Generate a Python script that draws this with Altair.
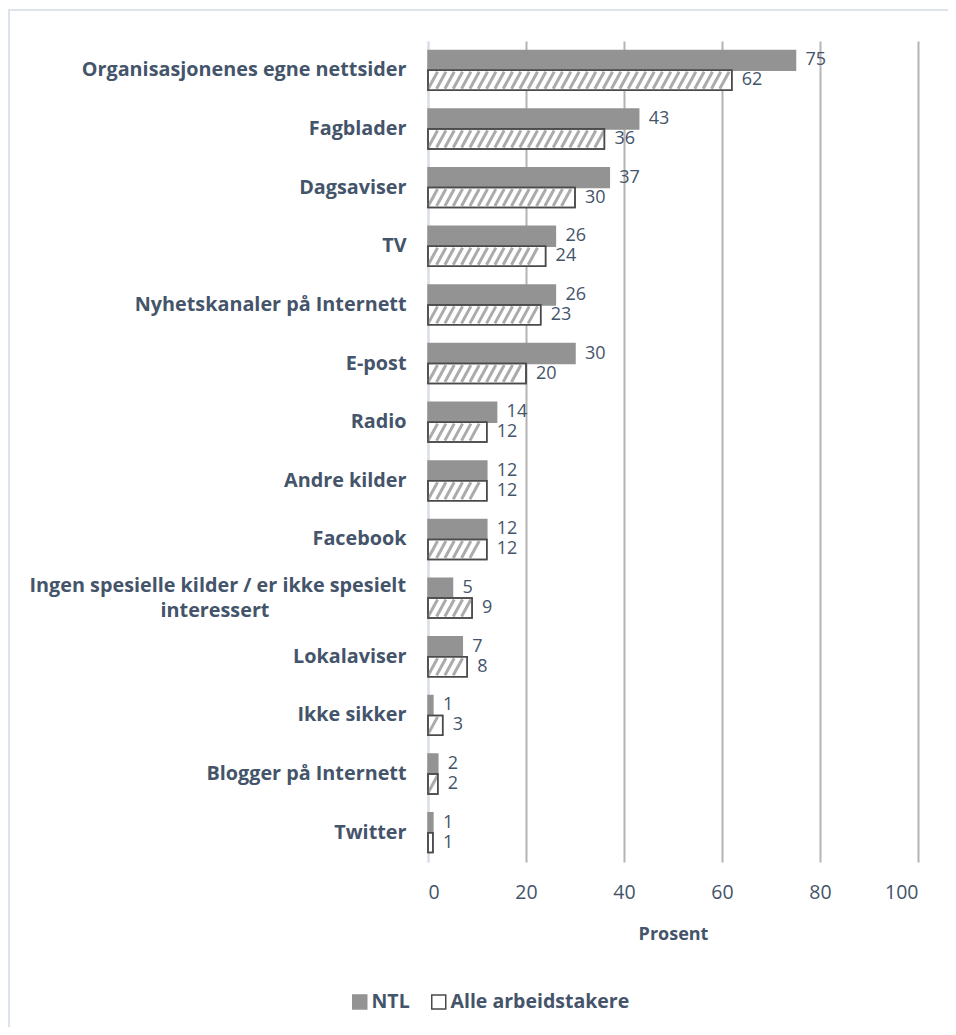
import altair as alt
import numpy as np
import pandas as pd

categories = [
    "Organisasjonenes egne nettsider",
    "Fagblader",
    "Dagsaviser",
    "TV",
    "Nyhetskanaler på Internett",
    "E-post",
    "Radio",
    "Andre kilder",
    "Facebook",
    "Ingen spesielle kilder / er ikke spesielt interessert",
    "Lokalaviser",
    "Ikke sikker",
    "Blogger på Internett",
    "Twitter",
]
ntl = [75, 43, 37, 26, 26, 30, 14, 12, 12, 5, 7, 1, 2, 1]
alle = [62, 36, 30, 24, 23, 20, 12, 12, 12, 9, 8, 3, 2, 1]
series = ["NTL", "Alle arbeidstakere"]
x_ticks = [0, 20, 40, 60, 80, 100]
wrapped_lines = ["Ingen spesielle kilder / er ikke spesielt", "interessert"]

TEXT = "#44546A"
FONT = "Open Sans"
LBL = 19.8

rows = []
for c, a, b in zip(categories, ntl, alle):
    rows.append({"kategori": c, "serie": series[0], "verdi": a})
    rows.append({"kategori": c, "serie": series[1], "verdi": b})
df = pd.DataFrame(rows)

# hatch texture positions (inside each "Alle" bar)
hatch_rows = []
for c, b in zip(categories, alle):
    for xv in np.arange(1.0, b - 0.99, 1.7):
        hatch_rows.append({"kategori": c, "serie": series[1], "verdi": float(xv)})
hatch = pd.DataFrame(hatch_rows)

W, H = 490, 821

y_enc = alt.Y("kategori:N", sort=categories, title=None,
              scale=alt.Scale(paddingInner=0.32, paddingOuter=0.16),
              axis=alt.Axis(labelFont=FONT, labelFontWeight="bold", labelFontSize=LBL,
                            labelColor=TEXT, labelPadding=22, ticks=False, labelLimit=500,
                            domainColor="#d9dee6", domainWidth=2,
                            labelExpr="datum.value == 'Ingen spesielle kilder / er ikke spesielt interessert' ? '' : datum.value"))
yoff = alt.YOffset("serie:N", sort=series, scale=alt.Scale(domain=series, paddingInner=0, paddingOuter=0))
x_enc = alt.X("verdi:Q", title="Prosent",
              scale=alt.Scale(domain=[0, 100], nice=False),
              axis=alt.Axis(values=x_ticks, labelFont=FONT, labelFontSize=19.5, labelColor=TEXT,
                            labelPadding=21, ticks=False, domain=False,
                            gridColor={"condition": {"test": "datum.value === 0", "value": "#d9dee6"}, "value": "#b4b4b4"},
                            gridWidth=2,
                            titleFont=FONT, titleFontWeight="bold", titleFontSize=18,
                            titleColor=TEXT, titlePadding=24))

base = alt.Chart(df)

bars = base.mark_bar(strokeWidth=1.5).encode(
    y=y_enc, yOffset=yoff, x=x_enc,
    fill=alt.Fill("serie:N", sort=series, title=None,
                  scale=alt.Scale(domain=series, range=["#939393", "#ffffff"]),
                  legend=alt.Legend(orient="none", legendX=-78, legendY=951, direction="horizontal",
                                    symbolType="square", symbolSize=196, symbolStrokeWidth=1.5,
                                    labelFont=FONT, labelFontSize=19.5, labelFontWeight="bold",
                                    labelLimit=400,
                                    labelColor=TEXT, columnPadding=18, labelOffset=2)),
    stroke=alt.Stroke("serie:N", sort=series, title=None,
                      scale=alt.Scale(domain=series, range=["#939393", "#4a4a4a"])),
)

hatch_layer = alt.Chart(hatch).mark_point(
    shape="M-0.55,1L0.55,-1", size=289, filled=False, stroke="#ababab", strokeWidth=3,
    strokeCap="butt", opacity=1
).encode(y=alt.Y("kategori:N", sort=categories), yOffset=alt.YOffset("serie:N", sort=series),
         x=alt.X("verdi:Q"))

outline = base.transform_filter(alt.datum.serie == series[1]).mark_bar(
    fillOpacity=0, stroke="#4a4a4a", strokeWidth=1.5
).encode(y=alt.Y("kategori:N", sort=categories), yOffset=alt.YOffset("serie:N", sort=series),
         x=alt.X("verdi:Q"))

labels = base.mark_text(align="left", baseline="middle", dx=10, font=FONT, fontSize=18,
                        color=TEXT).encode(
    y=alt.Y("kategori:N", sort=categories), yOffset=alt.YOffset("serie:N", sort=series),
    x=alt.X("verdi:Q"), text=alt.Text("verdi:Q"))

wrap_df = pd.DataFrame({"kategori": [categories[9]]})
wrap1 = alt.Chart(wrap_df).mark_text(
    align="right", baseline="middle", dy=-12, font=FONT, fontSize=LBL, fontWeight="bold",
    color=TEXT, text=wrapped_lines[0]).encode(y=alt.Y("kategori:N", sort=categories), x=alt.value(-22))
wrap2 = alt.Chart(wrap_df).mark_text(
    align="center", baseline="middle", dy=13, font=FONT, fontSize=LBL, fontWeight="bold",
    color=TEXT, text=wrapped_lines[1]).encode(y=alt.Y("kategori:N", sort=categories), x=alt.value(-213))

frame = alt.Chart(pd.DataFrame({"a": [0]})).mark_rect(
    fill=None, stroke="#dde3ea", strokeWidth=2).encode(
    x=alt.value(-419), x2=alt.value(560), y=alt.value(-31), y2=alt.value(1100))

chart = alt.layer(frame, bars, hatch_layer, outline, labels, wrap1, wrap2).properties(
    width=W, height=H,
    autosize=alt.AutoSizeParams(type="none"),
    padding={"left": 420, "top": 33, "right": 30, "bottom": 165},
    background="white",
).configure_view(stroke=None)

chart.save("out.html", embed_options={"renderer": "svg", "actions": False})
